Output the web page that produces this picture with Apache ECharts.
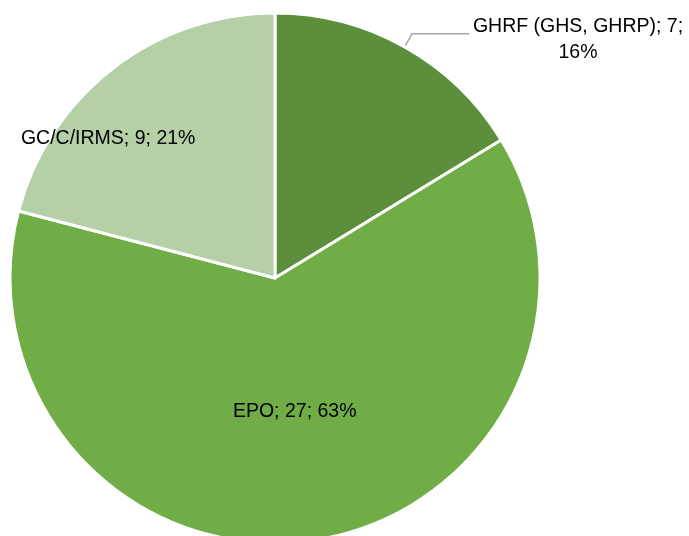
<!DOCTYPE html>
<html>
<head>
<meta charset="utf-8">
<script src="https://cdn.jsdelivr.net/npm/echarts@6/dist/echarts.min.js"></script>
<style>
  html, body { margin: 0; padding: 0; background: #fff; }
  #chart { width: 689px; height: 536px; }
</style>
</head>
<body>
<div id="chart"></div>
<script>
// methods and number of cases
const categories = ['GHRF (GHS, GHRP)', 'EPO', 'GC/C/IRMS']
const counts = [7, 27, 9]
const colors = ['#5b8f3b', '#70ad47', '#b5cfa7']

const font = "'Liberation Sans', Arial, sans-serif"
const fontSize = 19.5

const chart = echarts.init(document.getElementById('chart'))

const option = {
  animation: false,
  series: [{
    type: 'pie',
    center: [275, 278],
    radius: 265,
    startAngle: 90,
    clockwise: true,
    itemStyle: {
      borderColor: '#fff',
      borderWidth: 3
    },
    label: {
      position: 'inside',
      color: '#000',
      fontFamily: font,
      fontSize: fontSize,
      formatter: function (p) {
        return p.name + '; ' + p.value + '; ' + Math.round(p.percent) + '%'
      }
    },
    labelLayout: function (params) {
      // GC label sits further out toward the left
      if (params.dataIndex === 2) return { dx: -84, dy: -32 }
      return {}
    },
    data: categories.map(function (name, i) {
      const item = {
        name: name,
        value: counts[i],
        itemStyle: { color: colors[i] }
      }
      if (i === 0) {
        item.label = {
          position: 'outside',
          alignTo: 'none',
          bleedMargin: 0,
          padding: [12, 0, 0, 0],
          formatter: function (p) {
            return '{a|' + p.name + '; ' + p.value + ';}\n{a|' + Math.round(p.percent) + '%}'
          },
          rich: {
            a: {
              width: 208,
              align: 'center',
              lineHeight: 26,
              fontSize: fontSize,
              fontFamily: font,
              color: '#000'
            }
          }
        }
        item.labelLine = {
          show: true,
          length: 15,
          length2: 57,
          lineStyle: { color: '#a6a6a6', width: 1.5 }
        }
      }
      return item
    })
  }]
}

chart.setOption(option)
</script>
</body>
</html>
